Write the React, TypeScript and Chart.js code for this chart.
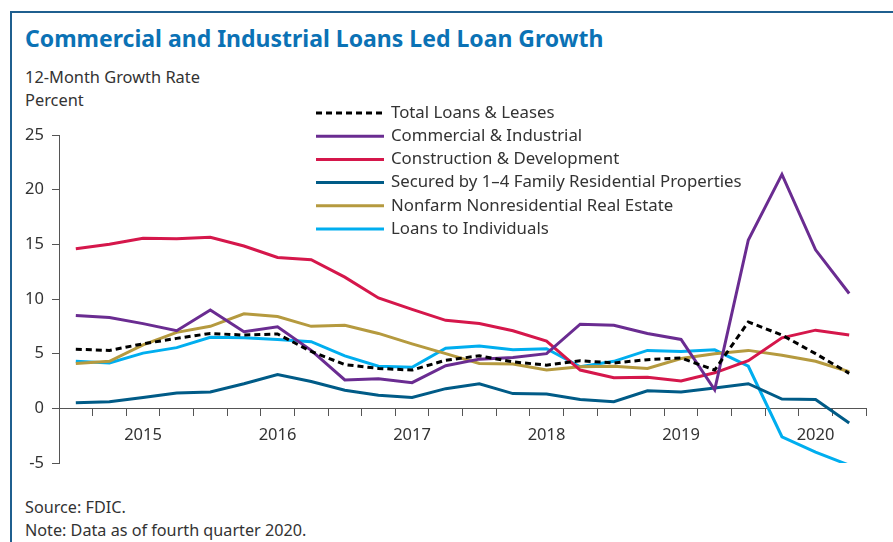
import React, { useEffect, useRef } from "react";
import { Chart, registerables } from "chart.js";

Chart.register(...registerables);

const quarters = [
  "2015 Q1", "2015 Q2", "2015 Q3", "2015 Q4",
  "2016 Q1", "2016 Q2", "2016 Q3", "2016 Q4",
  "2017 Q1", "2017 Q2", "2017 Q3", "2017 Q4",
  "2018 Q1", "2018 Q2", "2018 Q3", "2018 Q4",
  "2019 Q1", "2019 Q2", "2019 Q3", "2019 Q4",
  "2020 Q1", "2020 Q2", "2020 Q3", "2020 Q4",
];

const yearTickLabels = [
  "", "", "2015", "", "", "", "2016", "", "", "", "2017", "",
  "", "", "2018", "", "", "", "2019", "", "", "", "2020", "",
];

const yTicks = [-5, 0, 5, 10, 15, 20, 25];

const totalLoans = [5.4, 5.3, 5.9, 6.4, 6.85, 6.7, 6.8, 5.2, 4.0, 3.65, 3.5, 4.4, 4.8, 4.25, 3.95, 4.35, 4.15, 4.45, 4.6, 3.5, 7.9, 6.7, 5.0, 3.2];
const commercialIndustrial = [8.5, 8.3, 7.75, 7.1, 9.0, 7.0, 7.45, 5.3, 2.6, 2.7, 2.35, 3.9, 4.5, 4.65, 5.0, 7.7, 7.6, 6.85, 6.3, 1.7, 15.4, 21.4, 14.5, 10.5];
const constructionDev = [14.6, 15.0, 15.55, 15.5, 15.65, 14.85, 13.8, 13.6, 12.0, 10.1, 9.05, 8.05, 7.75, 7.1, 6.15, 3.5, 2.8, 2.85, 2.5, 3.25, 4.35, 6.45, 7.15, 6.7];
const family14 = [0.5, 0.6, 1.0, 1.4, 1.5, 2.25, 3.1, 2.45, 1.65, 1.2, 1.0, 1.8, 2.25, 1.35, 1.3, 0.8, 0.6, 1.6, 1.5, 1.85, 2.25, 0.85, 0.8, -1.35];
const nonfarmNonres = [4.1, 4.3, 5.8, 6.95, 7.5, 8.65, 8.4, 7.5, 7.6, 6.85, 5.9, 5.0, 4.1, 4.05, 3.5, 3.8, 3.85, 3.65, 4.55, 5.0, 5.3, 4.85, 4.3, 3.35];
const loansIndividuals = [4.3, 4.15, 5.05, 5.55, 6.5, 6.45, 6.3, 6.1, 4.8, 3.85, 3.75, 5.5, 5.7, 5.35, 5.45, 3.8, 4.3, 5.3, 5.2, 5.35, 3.85, -2.6, -4.0, -5.2];

const seriesNames = [
  "Total Loans & Leases",
  "Commercial & Industrial",
  "Construction & Development",
  "Secured by 1\u20134 Family Residential Properties",
  "Nonfarm Nonresidential Real Estate",
  "Loans to Individuals",
];

const FONT = "'Noto Sans', Lato, sans-serif";
const TEXT = "#333333";

const legendPlugin = {
  id: "customLegend",
  afterDraw(chart: any) {
    const ctx = chart.ctx;
    const x0 = 316;
    const x1 = 384;
    const tx = 391;
    const y0 = 113;
    const dy = 23.2;
    ctx.save();
    chart.data.datasets.forEach((ds: any, i: number) => {
      const y = y0 + i * dy;
      ctx.beginPath();
      ctx.strokeStyle = ds.borderColor;
      ctx.lineWidth = 3;
      ctx.setLineDash(ds.borderDash || []);
      ctx.moveTo(x0, y);
      ctx.lineTo(x1, y);
      ctx.stroke();
      ctx.setLineDash([]);
      ctx.fillStyle = TEXT;
      ctx.font = `16.8px ${FONT}`;
      ctx.textBaseline = "middle";
      ctx.textAlign = "left";
      ctx.fillText(ds.label, tx, y);
    });
    ctx.restore();
  },
};

export default function App() {
  const ref = useRef<HTMLCanvasElement>(null);

  useEffect(() => {
    if (!ref.current) return;
    const mk = (label: string, data: number[], color: string, dash?: number[]) => ({
      label,
      data,
      borderColor: color,
      backgroundColor: color,
      borderWidth: 3,
      borderDash: dash,
      pointRadius: 0,
      tension: 0,
      fill: false,
    });
    const chart = new Chart(ref.current, {
      type: "line",
      data: {
        labels: quarters,
        datasets: [
          mk(seriesNames[0], totalLoans, "#000000", [6, 4]),
          mk(seriesNames[1], commercialIndustrial, "#6a2c91"),
          mk(seriesNames[2], constructionDev, "#d5174b"),
          mk(seriesNames[3], family14, "#005b87"),
          mk(seriesNames[4], nonfarmNonres, "#b59a3f"),
          mk(seriesNames[5], loansIndividuals, "#00aeef"),
        ],
      },
      options: {
        animation: false,
        responsive: false,
        devicePixelRatio: 1,
        layout: { padding: { left: 0, right: 27, top: 135, bottom: 79 } },
        plugins: { legend: { display: false }, tooltip: { enabled: false } },
        scales: {
          x: {
            type: "category",
            offset: true,
            position: { y: 0 } as any,
            grid: { display: true, drawOnChartArea: false, offset: true, tickLength: 7, color: "#555555", lineWidth: 1 },
            border: { display: true, color: "#555555", width: 1 },
            ticks: {
              autoSkip: false,
              maxRotation: 0,
              padding: 10,
              color: TEXT,
              font: { family: FONT, size: 16.5 },
              callback: (_v: any, i: number) => yearTickLabels[i],
            },
          },
          y: {
            min: -5,
            max: 25,
            afterBuildTicks: (s: any) => {
              s.ticks = yTicks.map((v) => ({ value: v }));
            },
            afterFit: (s: any) => {
              s.width = 59;
            },
            grid: { display: true, drawOnChartArea: false, tickLength: 7, color: "#555555", lineWidth: 1 },
            border: { display: true, color: "#555555", width: 1 },
            ticks: {
              padding: 8,
              color: TEXT,
              font: { family: FONT, size: 16.5 },
              callback: (v: any) => String(v),
            },
          },
        },
      },
      plugins: [legendPlugin],
    });
    return () => chart.destroy();
  }, []);

  const txt = (top: number, size: number, extra: any = {}) => ({
    position: "absolute" as const,
    left: 25,
    top,
    fontSize: size,
    lineHeight: `${size}px`,
    fontFamily: FONT,
    color: TEXT,
    whiteSpace: "nowrap" as const,
    ...extra,
  });

  return (
    <div style={{ position: "absolute", left: 0, top: 0, width: 893, height: 542, background: "#fff", overflow: "hidden" }}>
      <div style={{ position: "absolute", left: 10, top: 11, width: 883, height: 2, background: "#1f5f8f" }} />
      <div style={{ position: "absolute", left: 10, top: 11, width: 2, height: 531, background: "#1f5f8f" }} />
      <div style={txt(27, 23, { color: "#0b72b5", fontWeight: 700 })}>Commercial and Industrial Loans Led Loan Growth</div>
      <div style={txt(69, 16.4)}>12-Month Growth Rate</div>
      <div style={txt(92, 16.4)}>Percent</div>
      <div style={txt(499, 16.2)}>Source: FDIC.</div>
      <div style={txt(522, 16.2)}>Note: Data as of fourth quarter 2020.</div>
      <canvas ref={ref} width={893} height={542} style={{ position: "absolute", left: 0, top: 0, width: 893, height: 542 }} />
    </div>
  );
}
